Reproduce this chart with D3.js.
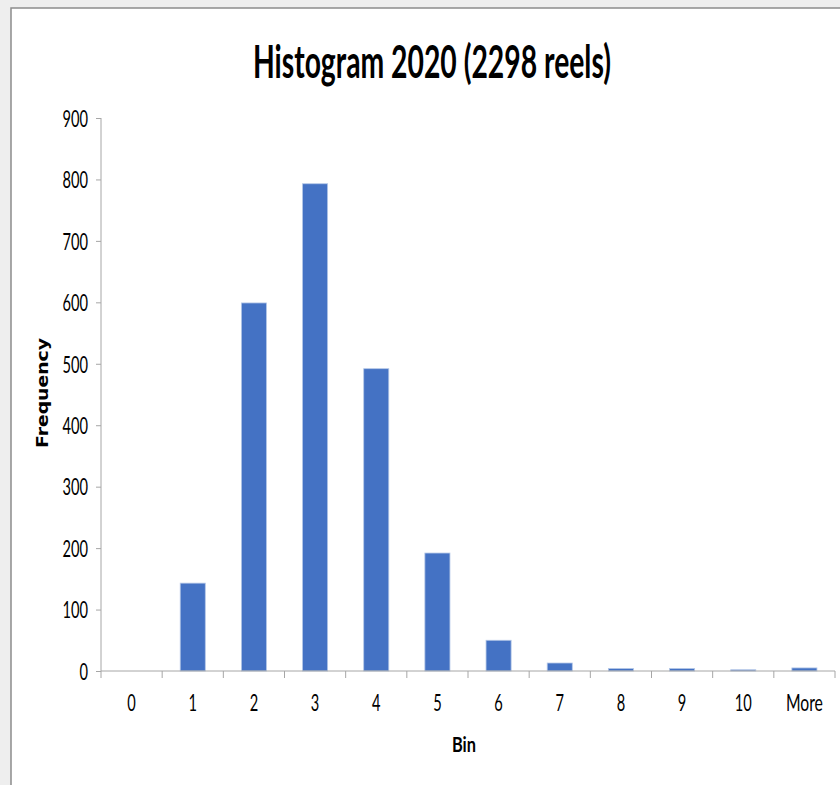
<!DOCTYPE html>
<html><head><meta charset="utf-8">
<script src="https://cdn.jsdelivr.net/npm/d3@7"></script>
<style>body{margin:0;background:#eeeeee;}svg{display:block;}</style>
</head><body>
<svg id="c" width="840" height="785"></svg>
<script>
const categories = ["0","1","2","3","4","5","6","7","8","9","10","More"];
const frequency = [0,143,599,793,492,192,50,13,4,4,2,5];
const yTicks = [0,100,200,300,400,500,600,700,800,900];
const titleText = "Histogram 2020 (2298 reels)";

const svg = d3.select("#c");
svg.append("rect").attr("x",11).attr("y",8).attr("width",840).attr("height",800)
  .attr("fill","#fff").attr("stroke","#8c8c8c").attr("stroke-width",1.5);

const m = {l:101, r:835, t:118, b:671};
const x = d3.scaleBand().domain(categories).range([m.l, m.r]).paddingInner(0.59).paddingOuter(0.295);
const y = d3.scaleLinear().domain([0,900]).range([m.b, m.t]);

const fam = "Lato,'Open Sans',sans-serif";
const widthOf = s => s === "More" ? 37 : s.length * 8.5;

svg.append("g").selectAll("rect").data(frequency).join("rect")
  .attr("x",(d,i)=>x(categories[i])).attr("width",x.bandwidth())
  .attr("y",d=>y(d)).attr("height",d=>y(0)-y(d))
  .attr("fill","#4472C4").attr("stroke","#b4c7e7").attr("stroke-width",0.8);

// y axis
const ya = svg.append("g").attr("transform",`translate(${m.l},0)`)
  .call(d3.axisLeft(y).tickValues(yTicks).tickSize(5).tickPadding(8));
ya.select(".domain").attr("stroke","#a6a6a6").attr("d",`M0,${m.t}V${m.b}`);
ya.selectAll(".tick line").attr("stroke","#a6a6a6");
ya.selectAll("text").attr("font-family",fam).attr("font-size",23).attr("fill","#000")
  .attr("dy","0.36em")
  .attr("textLength",d=>widthOf(String(d))).attr("lengthAdjust","spacingAndGlyphs");

// x axis
const xEdge = d3.scaleLinear().domain([0,categories.length]).range([m.l,m.r]);
const xa = svg.append("g").attr("transform",`translate(0,${m.b})`)
  .call(d3.axisBottom(x).tickSize(0).tickPadding(30));
xa.select(".domain").attr("stroke","#a6a6a6").attr("d",`M${m.l},0H${m.r}`);
xa.selectAll("text").attr("font-family",fam).attr("font-size",23).attr("fill","#000")
  .attr("dy","0.45em")
  .attr("textLength",d=>widthOf(d)).attr("lengthAdjust","spacingAndGlyphs");
xa.selectAll(".edge").data(d3.range(categories.length+1)).join("line")
  .attr("x1",d=>xEdge(d)).attr("x2",d=>xEdge(d)).attr("y1",0).attr("y2",7).attr("stroke","#a6a6a6");

// titles
svg.append("text").attr("x",432).attr("y",78).attr("text-anchor","middle")
  .attr("font-family",fam).attr("font-weight","bold").attr("font-size",46)
  .attr("textLength",358).attr("lengthAdjust","spacingAndGlyphs").text(titleText);
svg.append("text").attr("x",464).attr("y",752).attr("text-anchor","middle")
  .attr("font-family",fam).attr("font-weight","bold").attr("font-size",21)
  .attr("textLength",24).attr("lengthAdjust","spacingAndGlyphs").text("Bin");
svg.append("text").attr("transform","translate(48,393) rotate(-90)").attr("text-anchor","middle")
  .attr("font-family","'DejaVu Sans',sans-serif").attr("font-weight","bold").attr("font-size",15)
  .attr("textLength",110).attr("lengthAdjust","spacingAndGlyphs").text("Frequency");
</script>
</body></html>
